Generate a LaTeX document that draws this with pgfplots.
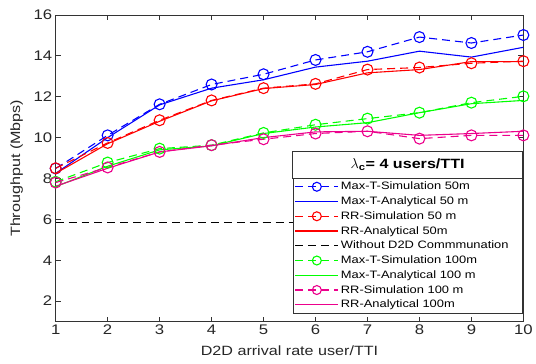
\documentclass[border=0pt]{standalone}
\usepackage{pgfplots}
\pgfplotsset{compat=1.18}
\usepackage{fontspec}
\setmainfont{Liberation Sans}[FakeStretch=1.2]
\begin{document}
\begin{tikzpicture}
\begin{axis}[
  width=470pt, height=308pt, scale only axis,
  xmin=1, xmax=10, ymin=1, ymax=16,
  xtick={1,...,10}, ytick={2,4,...,16},
  /pgf/number format/assume math mode=true,
  tick label style={font=\fontsize{14}{16}\selectfont, color=black!85},
  label style={font=\fontsize{13.5}{15}\selectfont, color=black!85},
  xlabel={D2D arrival rate user/TTI},
  ylabel={Throughput (Mbps)},
  xlabel style={at={(axis description cs:0.5,-0.094)}, anchor=center},
  ylabel style={at={(axis description cs:-0.0835,0.5)}, anchor=center},
  axis line style={black!80, line width=1pt},
  major tick length=5pt,
  tick style={black!80, line width=0.8pt},
  every axis plot/.append style={line width=1.1pt},
  mark size=5.5pt,
  legend style={name=leg, at={(axis description cs:0.998,0.4675)}, anchor=north east,
    draw=black!80, line width=0.8pt, font=\fontsize{10.8}{12}\selectfont, fill=white,
    cells={anchor=west}, inner sep=1.5pt, row sep=1.5pt},
  legend image code/.code={\draw[mark repeat=2,mark phase=2,#1, line width=1.1pt, mark size=4.5pt] plot coordinates {(0cm,0cm) (0.76cm,0cm) (1.52cm,0cm)};},
  dashsim/.style={dash pattern=on 8pt off 5pt, mark=o, mark options={solid}},
  clip=false,
]
\path (axis description cs:-0.119,1.049) -- (axis description cs:1.021,-0.136);
% Max-T sim 50m
\addplot[blue, dashsim] coordinates {(1,8.49) (2,10.11) (3,11.63) (4,12.6) (5,13.1) (6,13.8) (7,14.2) (8,14.92) (9,14.63) (10,15.02)};
\addlegendentry{Max-T-Simulation 50m}
\addplot[blue] coordinates {(1,8.25) (2,10.0) (3,11.6) (4,12.42) (5,12.83) (6,13.45) (7,13.74) (8,14.23) (9,13.94) (10,14.42)};
\addlegendentry{Max-T-Analytical 50 m}
\addplot[red, dashsim] coordinates {(1,8.5) (2,9.74) (3,10.85) (4,11.82) (5,12.42) (6,12.63) (7,13.33) (8,13.43) (9,13.64) (10,13.74)};
\addlegendentry{RR-Simulation 50 m}
\addplot[red] coordinates {(1,8.25) (2,9.7) (3,10.8) (4,11.8) (5,12.4) (6,12.6) (7,13.17) (8,13.33) (9,13.72) (10,13.72)};
\addlegendentry{RR-Analytical 50m}
\addplot[black, dash pattern=on 8pt off 5pt] coordinates {(1,5.85) (10,5.85)};
\addlegendentry{Without D2D Commmunation\rule{10pt}{0pt}}
\addplot[green, dashsim] coordinates {(1,7.84) (2,8.78) (3,9.46) (4,9.63) (5,10.23) (6,10.63) (7,10.93) (8,11.22) (9,11.71) (10,12.02)};
\addlegendentry{Max-T-Simulation 100m}
\addplot[green] coordinates {(1,7.6) (2,8.6) (3,9.4) (4,9.6) (5,10.2) (6,10.52) (7,10.73) (8,11.22) (9,11.66) (10,11.82)};
\addlegendentry{Max-T-Analytical 100 m}
\addplot[magenta, dashsim] coordinates {(1,7.8) (2,8.54) (3,9.3) (4,9.63) (5,9.92) (6,10.2) (7,10.31) (8,9.95) (9,10.11) (10,10.11)};
\addlegendentry{RR-Simulation 100 m}
\addplot[magenta] coordinates {(1,7.62) (2,8.5) (3,9.3) (4,9.6) (5,10.0) (6,10.28) (7,10.31) (8,10.11) (9,10.2) (10,10.31)};
\addlegendentry{RR-Analytical 100m}
\end{axis}
\draw[black!80, line width=0.8pt, fill=white] (leg.north west) rectangle ([yshift=27pt]leg.north east);
\node[font=\fontsize{13.5}{15}\selectfont\bfseries] at ([yshift=13.5pt]leg.north) {$\lambda$\textsubscript{c}= 4 users/TTI};
\end{tikzpicture}
\end{document}
